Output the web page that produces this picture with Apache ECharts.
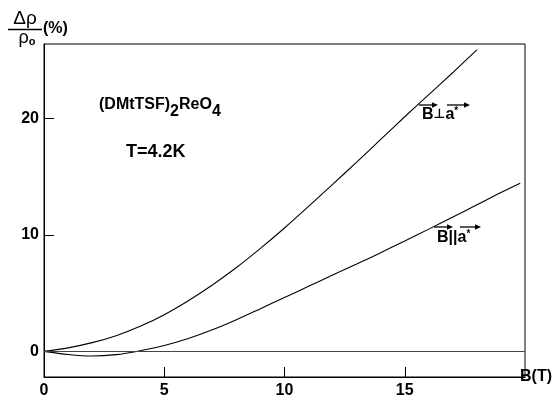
<!DOCTYPE html>
<html>
<head>
<meta charset="utf-8">
<script src="https://cdn.jsdelivr.net/npm/echarts@6/dist/echarts.min.js"></script>
<style>html,body{margin:0;padding:0;background:#fff;}#c{width:556px;height:399px;}</style>
</head>
<body>
<div id="c"></div>
<script>
// B ⊥ a*  (field in T, Δρ/ρ0 in %)
const perpB    = [0, 1, 2, 3, 4, 5, 6, 7, 8, 9, 10, 11, 12, 13, 14, 15, 16, 17, 18];
const perpRho  = [0, 0.3, 0.75, 1.35, 2.15, 3.15, 4.35, 5.7, 7.2, 8.85, 10.6, 12.45, 14.35, 16.25, 18.2, 20.15, 22.05, 23.95, 25.9];
// B || a*
const parB     = [0, 1, 2, 3, 4, 5, 6, 7, 8, 9, 10, 11, 12, 13, 14, 15, 16, 17, 18, 19, 19.8];
const parRho   = [0, -0.27, -0.4, -0.28, 0.06, 0.5, 1.1, 1.85, 2.72, 3.67, 4.63, 5.59, 6.55, 7.5, 8.48, 9.48, 10.5, 11.54, 12.59, 13.65, 14.45];
// axis ticks
const xTicks = [0, 5, 10, 15];
const yTicks = [0, 10, 20];
const xMin = 0, xMax = 20, yMin = -2.2, yMax = 26.4;

const FONT = 'Liberation Sans';
const pair = (xs, ys) => xs.map((x, i) => [x, ys[i]]);

const chart = echarts.init(document.getElementById('c'), null, {renderer: 'canvas'});

function arrow(x1, x2, y) {
  return [
    {type: 'line', shape: {x1: x1, y1: y, x2: x2 - 2, y2: y}, style: {stroke: '#000', lineWidth: 1.3}},
    {type: 'polygon', shape: {points: [[x2, y], [x2 - 6, y - 2.7], [x2 - 6, y + 2.7]]}, style: {fill: '#000'}}
  ];
}

const option = {
  animation: false,
  backgroundColor: '#fff',
  textStyle: {fontFamily: FONT},
  grid: {left: 44, right: 31, top: 44, bottom: 22, show: true, borderColor: '#000', borderWidth: 1, backgroundColor: 'transparent'},
  xAxis: {
    type: 'value', min: xMin, max: xMax,
    axisLine: {show: true, onZero: false, lineStyle: {color: '#000', width: 1}},
    axisTick: {show: true, inside: true, length: 10, customValues: xTicks, lineStyle: {color: '#000', width: 1}},
    axisLabel: {show: true, customValues: xTicks, margin: 6, color: '#000', fontSize: 16, fontWeight: 'bold', fontFamily: FONT},
    splitLine: {show: false},
    name: 'B(T)', nameLocation: 'end', nameGap: -5,
    nameTextStyle: {color: '#000', fontSize: 16, fontWeight: 'bold', fontFamily: FONT, verticalAlign: 'middle', padding: [26, 0, 0, 0]}
  },
  yAxis: {
    type: 'value', min: yMin, max: yMax,
    axisLine: {show: true, onZero: false, lineStyle: {color: '#000', width: 1}},
    axisTick: {show: true, inside: true, length: 10, customValues: yTicks, lineStyle: {color: '#000', width: 1}},
    axisLabel: {show: true, customValues: yTicks, margin: 5, color: '#000', fontSize: 16, fontWeight: 'bold', fontFamily: FONT},
    splitLine: {show: false}
  },
  series: [
    {
      name: 'B ⊥ a*', type: 'line', data: pair(perpB, perpRho), smooth: 0.3, showSymbol: false,
      lineStyle: {color: '#000', width: 1.1}, z: 3,
      markLine: {
        silent: true, symbol: 'none', label: {show: false},
        lineStyle: {color: '#444', width: 1, type: 'solid'},
        data: [{yAxis: 0}]
      }
    },
    {
      name: 'B || a*', type: 'line', data: pair(parB, parRho), smooth: 0.3, showSymbol: false,
      lineStyle: {color: '#000', width: 1.1}, z: 3
    }
  ],
  graphic: [
    // y-axis title: Δρ / ρo (%)
    {type: 'text', x: 25, y: 19, style: {text: 'Δρ', fill: '#000', font: '19px ' + FONT, align: 'center', verticalAlign: 'middle'}},
    {type: 'line', shape: {x1: 8, y1: 29.5, x2: 42, y2: 29.5}, style: {stroke: '#000', lineWidth: 1.6}},
    {type: 'text', x: 27, y: 38, style: {
      rich: {m: {fontSize: 18, fontFamily: FONT, fill: '#000', lineHeight: 18, verticalAlign: 'middle'},
             s: {fontSize: 11, fontFamily: FONT, fontWeight: 'bold', fill: '#000', lineHeight: 9, verticalAlign: 'bottom'}},
      text: '{m|ρ}{s|o}', align: 'center', verticalAlign: 'middle'}},
    {type: 'text', x: 43, y: 29, style: {text: '(%)', fill: '#000', font: 'bold 16px ' + FONT, align: 'left', verticalAlign: 'middle'}},
    // compound and temperature
    {type: 'text', x: 99, y: 105, style: {
      rich: {m: {fontSize: 16, fontFamily: FONT, fontWeight: 'bold', fill: '#000', lineHeight: 30, verticalAlign: 'middle'},
             s: {fontSize: 16, fontFamily: FONT, fontWeight: 'bold', fill: '#000', lineHeight: 15, verticalAlign: 'bottom'}},
      text: '{m|(DMtTSF)}{s|2}{m|ReO}{s|4}', align: 'left', verticalAlign: 'middle'}},
    {type: 'text', x: 126, y: 152, style: {text: 'T=4.2K', fill: '#000', font: 'bold 18px ' + FONT, align: 'left', verticalAlign: 'middle'}},
    // curve labels
    {type: 'text', x: 422, y: 115, style: {
      rich: {m: {fontSize: 16, fontFamily: FONT, fontWeight: 'bold', fill: '#000', lineHeight: 18, verticalAlign: 'middle'},
             p: {fontSize: 13, fontFamily: 'DejaVu Sans', fontWeight: 'bold', fill: '#000', lineHeight: 18, verticalAlign: 'middle'},
             u: {fontSize: 10, fontFamily: FONT, fontWeight: 'bold', fill: '#000', lineHeight: 18, verticalAlign: 'top'}},
      text: '{m|B}{p|⊥}{m|a}{u|*}', align: 'left', verticalAlign: 'middle'}},
    ...arrow(419, 438, 105),
    ...arrow(447, 470, 105),
    {type: 'text', x: 437, y: 238, style: {
      rich: {m: {fontSize: 16, fontFamily: FONT, fontWeight: 'bold', fill: '#000', lineHeight: 18, verticalAlign: 'middle'},
             u: {fontSize: 10, fontFamily: FONT, fontWeight: 'bold', fill: '#000', lineHeight: 18, verticalAlign: 'top'}},
      text: '{m|B||a}{u|*}', align: 'left', verticalAlign: 'middle'}},
    ...arrow(434, 453, 227),
    ...arrow(460, 481, 227)
  ]
};
chart.setOption(option);
</script>
</body>
</html>
